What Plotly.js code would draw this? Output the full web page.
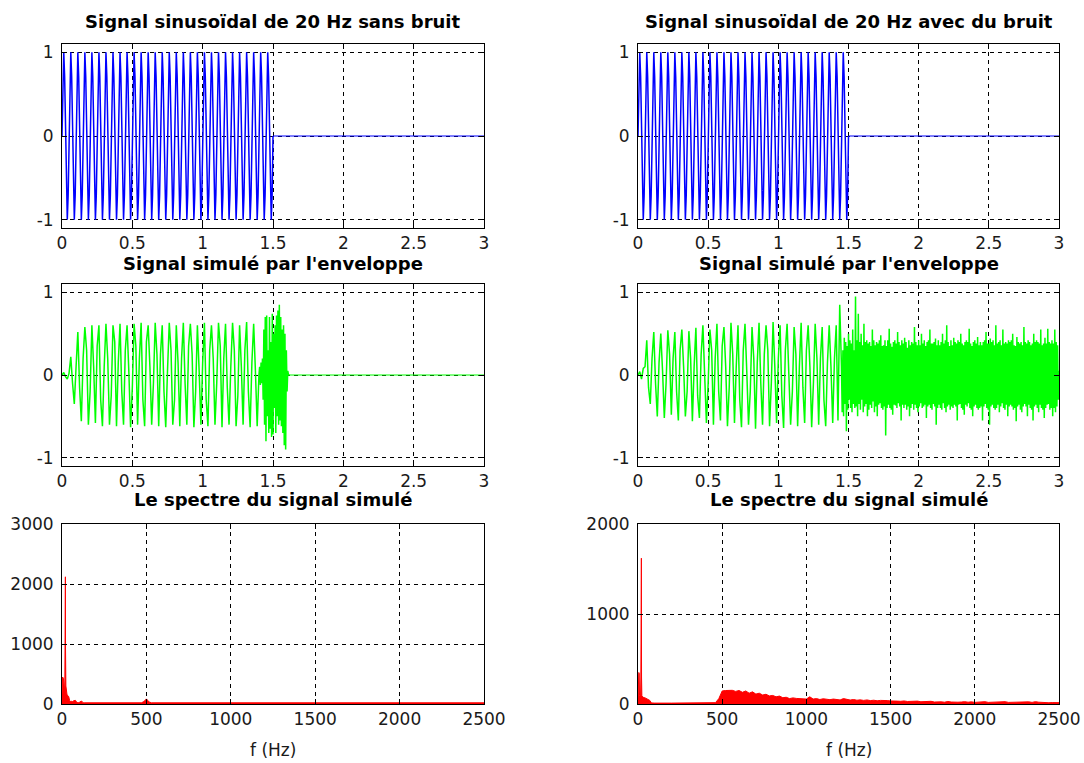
<!DOCTYPE html>
<html><head><meta charset="utf-8">
<script src="https://cdn.plot.ly/plotly-3.0.1.min.js"></script>
<style>html,body{margin:0;padding:0;background:#fff}#chart{width:1084px;height:763px}</style>
</head><body><div id="chart"></div>
<script>
// ---------------- DATA ----------------
const titles = [
  "Signal sinusoïdal de 20 Hz sans bruit",
  "Signal sinusoïdal de 20 Hz avec du bruit",
  "Signal simulé par l'enveloppe",
  "Signal simulé par l'enveloppe",
  "Le spectre du signal simulé",
  "Le spectre du signal simulé"
];
const xLabelSpec = "f (Hz)";
const timeTicks = [0, 0.5, 1, 1.5, 2, 2.5, 3];
const sigTicks = [-1, 0, 1];
const sigTickText = ["-1", "0", "1"];
const freqTicks = [0, 500, 1000, 1500, 2000, 2500];
const specTicksA = [0, 1000, 2000, 3000];
const specTicksB = [0, 1000, 2000];

// 20 Hz sine, read every 6.25 ms (eighth periods), 0 .. 1.5 s
const dtSig = 0.00625;
const sigClean = [
 0,0.71,1,0.71,0,-0.71,-1,-0.71, 0,0.71,1,0.71,0,-0.71,-1,-0.71, 0,0.71,1,0.71,0,-0.71,-1,-0.71,
 0,0.71,1,0.71,0,-0.71,-1,-0.71, 0,0.71,1,0.71,0,-0.71,-1,-0.71, 0,0.71,1,0.71,0,-0.71,-1,-0.71,
 0,0.71,1,0.71,0,-0.71,-1,-0.71, 0,0.71,1,0.71,0,-0.71,-1,-0.71, 0,0.71,1,0.71,0,-0.71,-1,-0.71,
 0,0.71,1,0.71,0,-0.71,-1,-0.71, 0,0.71,1,0.71,0,-0.71,-1,-0.71, 0,0.71,1,0.71,0,-0.71,-1,-0.71,
 0,0.71,1,0.71,0,-0.71,-1,-0.71, 0,0.71,1,0.71,0,-0.71,-1,-0.71, 0,0.71,1,0.71,0,-0.71,-1,-0.71,
 0,0.71,1,0.71,0,-0.71,-1,-0.71, 0,0.71,1,0.71,0,-0.71,-1,-0.71, 0,0.71,1,0.71,0,-0.71,-1,-0.71,
 0,0.71,1,0.71,0,-0.71,-1,-0.71, 0,0.71,1,0.71,0,-0.71,-1,-0.71, 0,0.71,1,0.71,0,-0.71,-1,-0.71,
 0,0.71,1,0.71,0,-0.71,-1,-0.71, 0,0.71,1,0.71,0,-0.71,-1,-0.71, 0,0.71,1,0.71,0,-0.71,-1,-0.71,
 0,0.71,1,0.71,0,-0.71,-1,-0.71, 0,0.71,1,0.71,0,-0.71,-1,-0.71, 0,0.71,1,0.71,0,-0.71,-1,-0.71,
 0,0.71,1,0.71,0,-0.71,-1,-0.71, 0,0.71,1,0.71,0,-0.71,-1,-0.71, 0,0.71,1,0.71,0,-0.71,-1,-0.71,
 0
];
const cleanTailT = [1.5, 3];
const cleanTailY = [0, 0];

// envelope-simulated signal without noise: 0 .. 1.4 s, every 12.5 ms
const dtEnv = 0.0125;
const envA = [
 0,0.03,-0.02,-0.05, 0.02,0.22,-0.1,-0.35, 0.1,0.52,-0.15,-0.56, 0.2,0.58,0.3,-0.6,
 -0.2,0.6,0.1,-0.58, 0.35,0.6,-0.3,-0.62, 0.1,0.62,0.2,-0.6, -0.25,0.6,0.4,-0.62,
 0.15,0.62,-0.2,-0.6, 0.3,0.6,0.05,-0.63, -0.15,0.62,0.35,-0.6, 0.2,0.63,-0.3,-0.62,
 0.4,0.6,0.1,-0.6, -0.1,0.63,0.25,-0.62, 0.25,0.6,-0.2,-0.63, 0.05,0.63,0.3,-0.6,
 -0.3,0.6,0.15,-0.62, 0.2,0.63,-0.1,-0.6, 0.35,0.62,0.25,-0.63, -0.2,0.6,0.05,-0.6,
 0.15,0.63,-0.3,-0.62, 0.3,0.6,0.2,-0.6, -0.1,0.63,0.35,-0.63, 0.2,0.62,-0.15,-0.6,
 0.1,0.63,0.3,-0.62, -0.25,0.6,0.1,-0.6, 0.3,0.64,-0.2,-0.63, 0.15,0.62,0.05,-0.62,
 0
];
// burst at the end of the signal: 1.40 .. 1.62 s, every 5 ms
const burstA_t0 = 1.4;
const dtBurst = 0.005;
const burstA = [
 0,0.1,-0.12,0.15,-0.1,0.2,-0.3,0.55,-0.6,0.7,
 -0.8,0.72,-0.5,0.3,-0.7,0.7,-0.65,0.4,-0.75,0.74,
 -0.72,0.5,-0.4,0.6,-0.7,0.72,-0.5,0.78,-0.6,0.85,
 -0.55,0.7,-0.62,0.55,-0.7,0.6,-0.85,0.5,-0.9,0.3,
 -0.2,0.05,0,0,0
];
const envTailT = [1.62, 3];
const envTailY = [0, 0];

// envelope-simulated signal with noise: 0 .. 1.4375 s, every 12.5 ms
const envB = [
 0,0.04,-0.05,0.08, 0.1,0.42,-0.15,-0.35, 0.2,0.52,-0.1,-0.5, 0.15,0.5,0.05,-0.52,
 -0.1,0.54,0.25,-0.48, 0.2,0.52,-0.2,-0.55, 0.3,0.55,0.1,-0.5, -0.2,0.53,0.2,-0.56,
 0.1,0.57,-0.25,-0.52, 0.25,0.6,0,-0.58, -0.1,0.55,0.3,-0.6, 0.2,0.62,-0.2,-0.55,
 0.35,0.58,0.1,-0.62, -0.15,0.63,0.25,-0.58, 0.1,0.6,-0.3,-0.63, 0.3,0.62,0.05,-0.6,
 -0.2,0.58,0.2,-0.65, 0.15,0.63,-0.1,-0.6, 0.25,0.6,0.3,-0.62, -0.1,0.64,0.1,-0.58,
 0.2,0.6,-0.25,-0.64, 0.3,0.62,0,-0.6, -0.2,0.58,0.25,-0.62, 0.1,0.63,-0.15,-0.58,
 0.3,0.6,0.1,-0.63, -0.1,0.62,0.2,-0.6, 0.2,0.58,-0.3,-0.62, 0.15,0.6,0.1,-0.58,
 0.2,0.6,-0.55,0.85
];
// noisy part: 1.45 .. 3.0 s, every 5 ms
const noiseB_t0 = 1.45;
const dtNoise = 0.005;
const noiseB = [
 0.1,-0.45,0.3,-0.5,0.45,-0.35,0.4,-0.68,0.35,-0.42,
 0.5,-0.3,0.42,-0.4,0.38,-0.45,0.55,-0.35,0.3,-0.4,
 0.95,-0.38,0.42,-0.5,0.74,-0.35,0.4,-0.42,0.5,-0.3,
 0.36,-0.45,0.62,-0.38,0.4,-0.35,0.42,-0.5,0.38,-0.42,
 0.4,-0.36,0.35,-0.4,0.55,-0.32,0.42,-0.45,0.36,-0.38,
 0.4,-0.5,0.38,-0.36,0.42,-0.34,0.48,-0.4,0.35,-0.42,
 0.36,-0.38,0.42,-0.73,0.35,-0.4,0.42,-0.36,0.56,-0.4,
 0.38,-0.42,0.34,-0.48,0.4,-0.36,0.42,-0.37,0.38,-0.4,
 0.52,-0.34,0.4,-0.38,0.36,-0.55,0.42,-0.36,0.38,-0.4,
 0.45,-0.36,0.4,-0.42,0.33,-0.38,0.42,-0.5,0.36,-0.4,
 0.4,-0.35,0.38,-0.42,0.58,-0.36,0.4,-0.4,0.36,-0.45,
 0.42,-0.38,0.36,-0.34,0.5,-0.4,0.38,-0.38,0.42,-0.36,
 0.35,-0.52,0.4,-0.38,0.42,-0.36,0.55,-0.4,0.38,-0.42,
 0.38,-0.35,0.4,-0.38,0.44,-0.6,0.36,-0.4,0.42,-0.36,
 0.36,-0.4,0.4,-0.42,0.5,-0.34,0.38,-0.4,0.42,-0.45,
 0.6,-0.38,0.4,-0.36,0.35,-0.42,0.42,-0.38,0.36,-0.4,
 0.45,-0.36,0.4,-0.38,0.38,-0.55,0.42,-0.36,0.4,-0.35,
 0.5,-0.4,0.38,-0.42,0.36,-0.48,0.4,-0.36,0.42,-0.38,
 0.4,-0.34,0.56,-0.4,0.38,-0.42,0.35,-0.5,0.4,-0.38,
 0.42,-0.36,0.38,-0.4,0.46,-0.42,0.36,-0.4,0.4,-0.38,
 0.36,-0.55,0.4,-0.38,0.42,-0.35,0.52,-0.4,0.38,-0.42,
 0.38,-0.6,0.44,-0.38,0.4,-0.36,0.42,-0.4,0.36,-0.42,
 0.6,-0.4,0.38,-0.36,0.4,-0.45,0.42,-0.38,0.36,-0.34,
 0.55,-0.4,0.38,-0.42,0.4,-0.36,0.38,-0.5,0.42,-0.38,
 0.4,-0.36,0.42,-0.38,0.5,-0.42,0.36,-0.4,0.35,-0.56,
 0.46,-0.38,0.4,-0.36,0.38,-0.42,0.4,-0.45,0.36,-0.38,
 0.58,-0.35,0.4,-0.38,0.38,-0.5,0.42,-0.36,0.4,-0.4,
 0.36,-0.42,0.38,-0.55,0.5,-0.38,0.4,-0.36,0.42,-0.4,
 0.4,-0.45,0.38,-0.36,0.55,-0.4,0.36,-0.42,0.38,-0.52,
 0.45,-0.4,0.38,-0.36,0.56,-0.35,0.4,-0.42,0.38,-0.4,
 0.42,-0.5,0.38,-0.4,0.55,-0.45,0.4,-0.38,0.36,-0.3,
 0.05
];

// spectrum of the simulated signal without noise
const freqA = [0,3,6,9,12,15,17,19,20,21, 23,26,30,35,40,45,50,55,60,70,
  80,85,90,100,110,115,120,125,135,150, 200,300,400,470,485,495,500,505,515,530,
  600,800,1000,1500,2000,2500];
const specA = [150,450,440,420,300,200,400,1500,2120,900, 300,160,150,140,120,60,40,50,35,55,
  60,40,25,22,45,50,35,22,20,20, 20,20,20,20,40,70,85,70,35,20,
  20,20,20,20,20,20];

// spectrum of the simulated signal with noise
const freqBlow = [0,3,5,7,9,12,15,17,19,20, 21,23,26,30,40,50,60,70,80,100, 200,300,400,430];
const specBlow = [60,200,350,340,100,80,70,300,1620,1620, 300,90,80,75,70,60,55,40,12,10, 10,10,10,10];
const bandF0 = 440;
const bandDf = 20;
const specBband = [
 10,15,60,145,150,148,152,140,150,130,
 145,120,135,110,120,100,108,90,95,80,
 88,70,75,60,68,62,58,60,55,80,
 55,60,50,58,52,48,55,50,45,60,
 48,44,50,42,46,40,45,38,42,36,
 40,35,38,34,36,32,30,34,28,30,
 26,32,25,28,24,30,22,26,24,20,
 28,22,25,20,22,26,20,24,18,22,
 20,26,18,20,24,18,22,26,18,20,
 16,22,18,20,24,18,26,20,16,18,
 14,16,15,15
];

// ---------------- BUILD ----------------
const BLUE = '#0000ff', GREEN = '#00ff00', RED = '#ff0000';
const FONT = 'DejaVu Sans, Liberation Sans, Arial, sans-serif';
const sampleTimes = (vals, t0, dt) => vals.map((_, i) => t0 + i * dt);

function lineTrace(x, y, color, ax, w) {
  return {x: x, y: y, type: 'scatter', mode: 'lines', line: {color: color, width: w || 1},
    xaxis: 'x' + ax, yaxis: 'y' + ax, hoverinfo: 'skip'};
}
function specTrace(x, y, ax) {
  return {x: x, y: y, type: 'scatter', mode: 'lines', line: {color: RED, width: 1},
    fill: 'tozeroy', fillcolor: RED, xaxis: 'x' + ax, yaxis: 'y' + ax, hoverinfo: 'skip'};
}

const tClean = sampleTimes(sigClean, 0, dtSig);
const tEnvA = sampleTimes(envA, 0, dtEnv);
const tBurstA = sampleTimes(burstA, burstA_t0, dtBurst);
const tEnvB = sampleTimes(envB, 0, dtEnv);
const tNoiseB = sampleTimes(noiseB, noiseB_t0, dtNoise);
const freqBband = specBband.map((_, i) => bandF0 + i * bandDf);

const traces = [
  lineTrace(tClean, sigClean, BLUE, '', 1.5),
  lineTrace(cleanTailT, cleanTailY, BLUE, '', 1.2),
  lineTrace(tClean, sigClean, BLUE, '2', 1.5),
  lineTrace(cleanTailT, cleanTailY, BLUE, '2', 1.2),
  lineTrace(tEnvA.concat(tBurstA), envA.concat(burstA), GREEN, '3', 1.5),
  lineTrace(envTailT, envTailY, GREEN, '3', 1.2),
  lineTrace(tEnvB.concat(tNoiseB), envB.concat(noiseB), GREEN, '4', 1.5),
  specTrace(freqA, specA, '5'),
  specTrace(freqBlow.concat(freqBband), specBlow.concat(specBband), '6')
];

const W = 1084, H = 763;
const colX = [[62, 484], [638, 1059]];
const rowY = [[44, 228], [284, 466], [524, 704]];
const dx = p => [p[0] / W, p[1] / W];
const dy = p => [1 - p[1] / H, 1 - p[0] / H];

function axis(extra) {
  return Object.assign({
    showline: true, linecolor: '#000', linewidth: 1, mirror: 'ticks',
    ticks: 'inside', ticklen: 5, tickcolor: '#000', tickwidth: 1,
    showgrid: true, gridcolor: '#000', gridwidth: 1, griddash: '4px,4px',
    zeroline: false, fixedrange: true,
    tickfont: {family: FONT, size: 17, color: '#1a1a1a'}
  }, extra);
}
const yExtra = {ticklabelstandoff: 4};
const sigY = (dom, anc) => axis(Object.assign({domain: dom, range: [-1.1, 1.1], tickvals: sigTicks, ticktext: sigTickText, anchor: anc}, yExtra));

const layout = {
  width: W, height: H,
  margin: {l: 0, r: 0, t: 0, b: 0},
  paper_bgcolor: '#fff', plot_bgcolor: '#fff',
  showlegend: false,
  xaxis:  axis({domain: dx(colX[0]), range: [0, 3], tickvals: timeTicks, anchor: 'y'}),
  yaxis:  sigY(dy(rowY[0]), 'x'),
  xaxis2: axis({domain: dx(colX[1]), range: [0, 3], tickvals: timeTicks, anchor: 'y2'}),
  yaxis2: sigY(dy(rowY[0]), 'x2'),
  xaxis3: axis({domain: dx(colX[0]), range: [0, 3], tickvals: timeTicks, anchor: 'y3'}),
  yaxis3: sigY(dy(rowY[1]), 'x3'),
  xaxis4: axis({domain: dx(colX[1]), range: [0, 3], tickvals: timeTicks, anchor: 'y4'}),
  yaxis4: sigY(dy(rowY[1]), 'x4'),
  xaxis5: axis({domain: dx(colX[0]), range: [0, 2500], tickvals: freqTicks, anchor: 'y5'}),
  yaxis5: axis(Object.assign({domain: dy(rowY[2]), range: [0, 3000], tickvals: specTicksA, anchor: 'x5'}, yExtra)),
  xaxis6: axis({domain: dx(colX[1]), range: [0, 2500], tickvals: freqTicks, anchor: 'y6'}),
  yaxis6: axis(Object.assign({domain: dy(rowY[2]), range: [0, 2000], tickvals: specTicksB, anchor: 'x6'}, yExtra)),
  annotations: []
};

const titleY = [22, 263, 499];
for (let i = 0; i < 6; i++) {
  const c = i % 2, r = Math.floor(i / 2);
  layout.annotations.push({
    text: '<b>' + titles[i] + '</b>', xref: 'paper', yref: 'paper',
    x: (colX[c][0] + colX[c][1]) / 2 / W, y: 1 - titleY[r] / H,
    xanchor: 'center', yanchor: 'middle', showarrow: false,
    font: {family: FONT, size: 18, color: '#000'}
  });
}
for (let c = 0; c < 2; c++) {
  layout.annotations.push({
    text: xLabelSpec, xref: 'paper', yref: 'paper',
    x: (colX[c][0] + colX[c][1]) / 2 / W, y: 1 - 750 / H,
    xanchor: 'center', yanchor: 'middle', showarrow: false,
    font: {family: FONT, size: 17, color: '#1a1a1a'}
  });
}

Plotly.newPlot('chart', traces, layout, {staticPlot: true, displayModeBar: false});
</script>
</body></html>
